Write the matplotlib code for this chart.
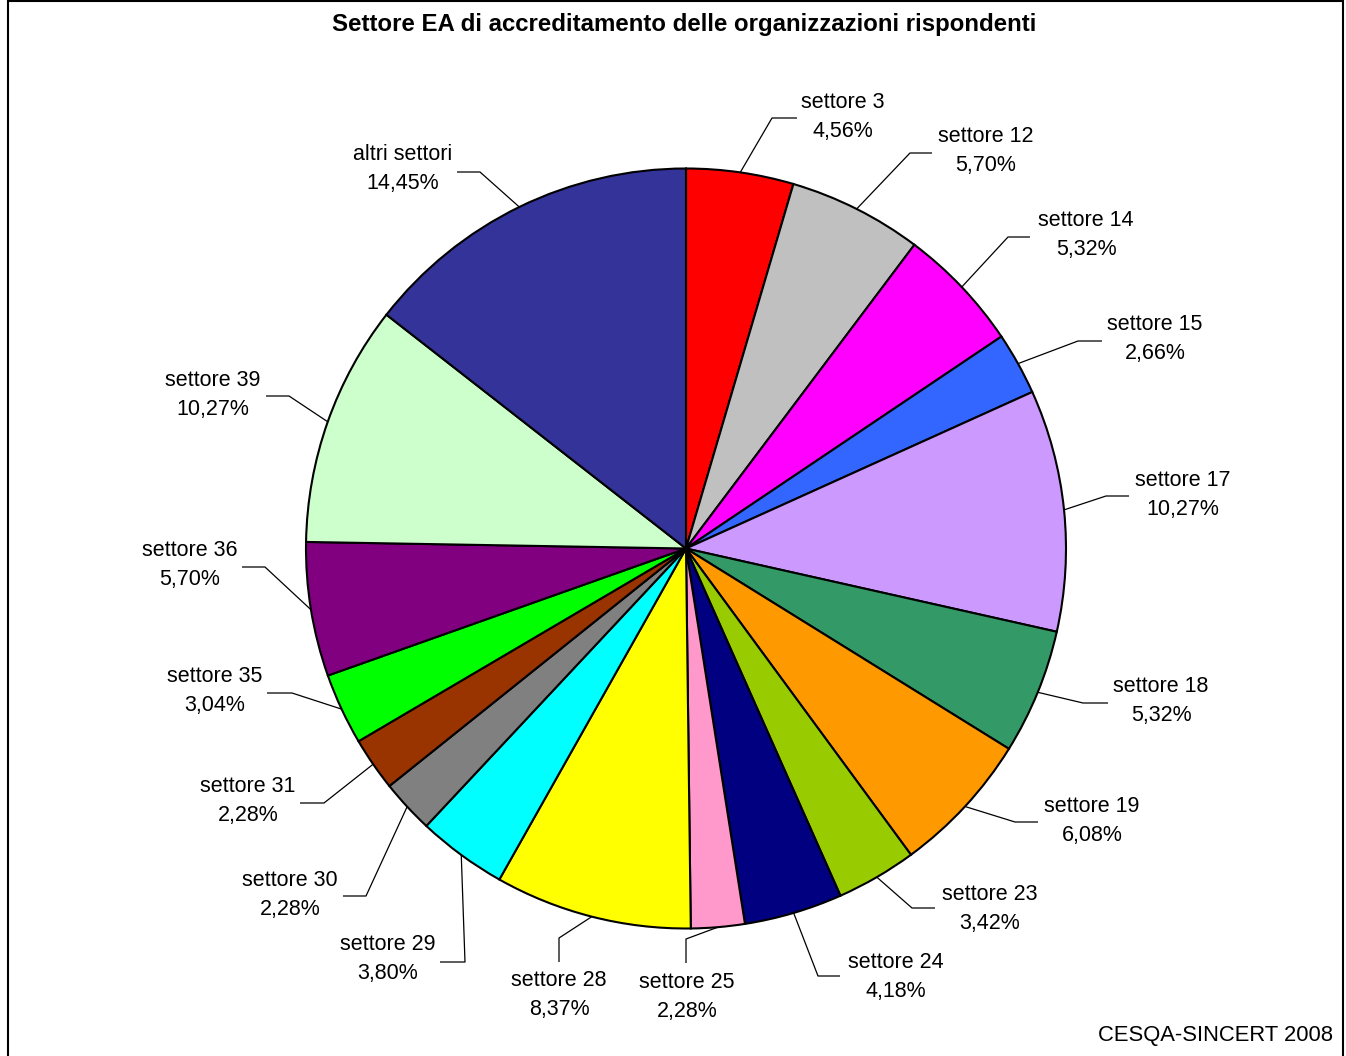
import numpy as np
import matplotlib
matplotlib.use("Agg")
import matplotlib.pyplot as plt
from matplotlib.patches import Rectangle

# ---- data ----
categories = ["settore 3", "settore 12", "settore 14", "settore 15", "settore 17",
              "settore 18", "settore 19", "settore 23", "settore 24", "settore 25",
              "settore 28", "settore 29", "settore 30", "settore 31", "settore 35",
              "settore 36", "settore 39", "altri settori"]
values = [4.56, 5.70, 5.32, 2.66, 10.27, 5.32, 6.08, 3.42, 4.18, 2.28,
          8.37, 3.80, 2.28, 2.28, 3.04, 5.70, 10.27, 14.45]
colors = ["#FF0000", "#C0C0C0", "#FF00FF", "#3366FF", "#CC99FF", "#339966",
          "#FF9900", "#99CC00", "#000080", "#FF99CC", "#FFFF00", "#00FFFF",
          "#808080", "#993300", "#00FF00", "#800080", "#CCFFCC", "#333399"]
title = "Settore EA di accreditamento delle organizzazioni rispondenti"
source = "CESQA-SINCERT 2008"

# ---- layout (pixel coords from top-left) ----
W, H = 1346, 1056
CX, CY, R = 686, 548.5, 380
# label center x, first line y; elbow point; end of leader
label_layout = [
    ((843, 102), (772, 118), (797, 118)),
    ((986, 137), (910, 153), (932, 153)),
    ((1086, 221), (1008, 237), (1030, 237)),
    ((1155, 325), (1078, 341), (1102, 341)),
    ((1183, 480), (1106, 496), (1129, 496)),
    ((1161, 686), (1083, 703), (1108, 703)),
    ((1092, 807), (1015, 822), (1038, 822)),
    ((990, 894), (912, 908), (935, 908)),
    ((896, 962), (818, 976), (840, 976)),
    ((687, 982), (686, 939), (686, 963)),
    ((559, 980), (559, 938), (559, 962)),
    ((388, 945), (465, 962), (440, 962)),
    ((290, 880), (366, 896), (343, 896)),
    ((248, 787), (324, 803), (300, 803)),
    ((215, 677), (292, 693), (267, 693)),
    ((190, 551), (265, 567), (242, 567)),
    ((213, 380), (289, 396), (266, 396)),
    ((403, 155), (480, 172), (457, 172)),
]

FONT = "Liberation Sans"
fig = plt.figure(figsize=(W / 100, H / 100), dpi=100)
ax = fig.add_axes([0, 0, 1, 1])

def P(x, y):
    return (x, H - y)

wedges, _ = ax.pie(values, colors=colors, startangle=90, counterclock=False,
                   center=P(CX, CY), radius=R,
                   wedgeprops=dict(edgecolor="black", linewidth=1.5))
ax.set_xlim(0, W)
ax.set_ylim(0, H)
ax.set_aspect("auto")
ax.axis("off")

for w, name, v, (txt, elbow, end) in zip(wedges, categories, values, label_layout):
    mid = np.deg2rad((w.theta1 + w.theta2) / 2)
    ex = w.center[0] + w.r * np.cos(mid)
    ey = w.center[1] + w.r * np.sin(mid)
    xs = [ex, elbow[0], end[0]]
    ys = [ey, H - elbow[1], H - end[1]]
    ax.plot(xs, ys, color="black", linewidth=0.9, solid_capstyle="butt")
    pct = f"{v:.2f}".replace(".", ",") + "%"
    ax.text(*P(txt[0], txt[1]), name, ha="center", va="center",
            fontsize=15.5, family=FONT)
    ax.text(*P(txt[0], txt[1] + 29), pct, ha="center", va="center",
            fontsize=15.5, family=FONT)

ax.text(*P(684, 25), title, ha="center", va="center", fontsize=17.3,
        fontweight="bold", family=FONT)
ax.text(*P(1333, 1036), source, ha="right", va="center", fontsize=15.8,
        family=FONT)

# frame
ax.add_patch(Rectangle((8, -5), W - 8 - 3, H - 1 + 5, fill=False,
                       edgecolor="black", linewidth=1.5, clip_on=False))

fig.savefig("out.png", dpi=100)
